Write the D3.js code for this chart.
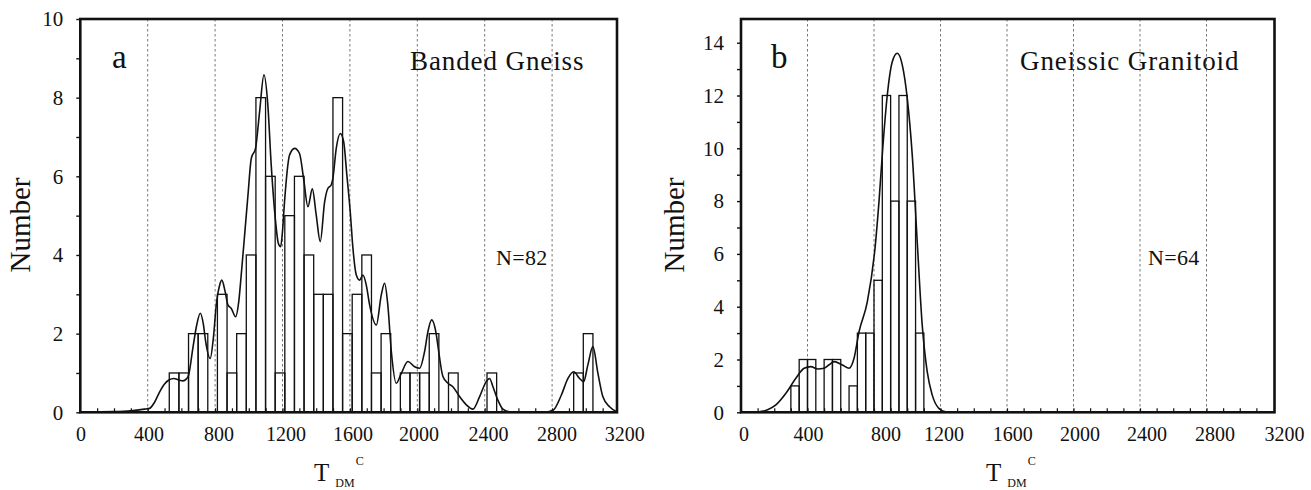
<!DOCTYPE html>
<html>
<head>
<meta charset="utf-8">
<script src="https://cdn.jsdelivr.net/npm/d3@7/dist/d3.min.js"></script>
<style>
  html, body { margin: 0; padding: 0; background: #fff; }
  svg text { font-family: "Liberation Serif", "Times New Roman", serif; fill: #111; }
</style>
</head>
<body>
<svg id="chart" width="1311" height="490"></svg>
<script>
// ---------------- DATA ----------------
// Panel a: Banded Gneiss (N=82)
const binStartA = 528;
const binWidthA = 400 / 7;
const countsA = [1,1,2,2,0,3,1,2,4,8, 6,1,5,6,4,3,3,8,2,3, 4,1,2,0,1,1,1,2,0,1, 0,0,0,1,0,0,0,0,0,0, 0,0,1,2];
const curveAx = [0,200,300,380,411,440,471,500,526,555,585,609,630,643,668,690,712,730,744,771,790,807,825,840,858,876,896,922,940,955,975,995,1015,1040,1064,1090,1113,1133,1159,1175,1189,1200,1212,1242,1272,1301,1325,1351,1377,1400,1424,1450,1469,1489,1499,1519,1543,1563,1582,1602,1618,1638,1658,1677,1697,1717,1757,1786,1806,1825,1846,1875,1905,1944,1984,2014,2043,2063,2085,2113,2123,2152,2182,2211,2251,2291,2330,2370,2409,2429,2449,2478,2508,2548,2600,2750,2805,2855,2894,2928,2963,2987,3012,3042,3072,3101,3141,3181];
const curveAy = [0.01,0.02,0.04,0.08,0.1,0.25,0.52,0.72,0.82,0.86,0.82,0.8,0.85,0.95,1.63,2.2,2.52,2.25,1.8,1.37,1.9,2.73,3.2,3.36,3.1,2.73,2.64,2.43,2.8,3.49,4.5,5.52,6.46,6.71,7.64,8.58,7.81,6.29,4.85,4.3,4.21,4.6,5.35,6.54,6.71,6.58,5.95,5.23,5.68,5.02,4.34,5.35,5.69,5.78,5.95,6.71,7.09,6.88,6.03,5.1,4.17,3.49,3.36,3.49,3.24,2.73,2.22,2.98,3.28,2.73,1.54,0.74,0.99,1.29,1.16,1.12,1.54,2.05,2.35,1.97,1.67,0.91,0.74,0.65,0.4,0.19,0.08,0.4,0.78,0.86,0.65,0.31,0.08,0.01,0,0,0.05,0.44,0.86,1.03,0.86,0.78,1.2,1.67,0.99,0.4,0.14,0.02];

// Panel b: Gneissic Granitoid (N=64)
const binStartB = 300;
const binWidthB = 50;
const countsB = [1,2,2,0,2,2,0,1,3,3,5,12,8,12,8,3];
const curveBx = [0,60,110,160,210,270,330,380,420,460,500,530,560,610,650,680,710,760,806,830,854,880,910,940,970,1000,1030,1060,1090,1120,1150,1190,1230,1280,1320];
const curveBy = [0,0,0.02,0.1,0.28,0.72,1.29,1.67,1.73,1.64,1.67,1.8,1.92,1.79,1.67,2.05,3.05,4.19,6.21,7.98,10.12,12.02,13.28,13.6,13.16,11.9,9.75,6.46,3.31,1.54,0.66,0.15,0.02,0,0];

// Axis ticks / labels
const xTickLabels = [0,400,800,1200,1600,2000,2400,2800,3200];
const gridLines = [400,800,1200,1600,2000,2400,2800];
const yTicksA = [0,2,4,6,8,10];
const yTicksB = [0,2,4,6,8,10,12,14];

const panels = [
  { letter: "a", title: "Banded Gneiss", nLabel: "N=82",
    counts: countsA, binStart: binStartA, binWidth: binWidthA,
    cx: curveAx, cy: curveAy, yTicks: yTicksA, yMinor: d3.range(0, 11),
    xr: [80.3, 619.5], frameR: 617, yd: [0,10], yr: [412.3, 19],
    labelNudge: [0.7,1.3,3.9,3.5,3.1,1.7,3.8,4.9,5.2],
    titleX: 410, nX: 496, letterX: 112, numX: 21, tX: 314 },
  { letter: "b", title: "Gneissic Granitoid", nLabel: "N=64",
    counts: countsB, binStart: binStartB, binWidth: binWidthB,
    cx: curveBx, cy: curveBy, yTicks: yTicksB, yMinor: d3.range(0, 15),
    xr: [741, 1273], frameR: 1274.5, yd: [0,14], yr: [412.3, 42.7],
    labelNudge: [3,1,12,3.5,5.7,6.5,7,8.5,11.5],
    titleX: 1020, nX: 1148, letterX: 771, numX: 675, tX: 986 }
];

const svg = d3.select("#chart");
const TOP = 19, BOTTOM = 412.3;

panels.forEach((p, pi) => {
  const x = d3.scaleLinear().domain([0, 3200]).range(p.xr);
  const y = d3.scaleLinear().domain(p.yd).range(p.yr);
  const left = p.xr[0];
  const g = svg.append("g");

  const clipId = "clip" + pi;
  svg.append("clipPath").attr("id", clipId).append("rect")
    .attr("x", left).attr("y", TOP).attr("width", p.frameR - left).attr("height", BOTTOM - TOP);

  // dashed grid
  g.selectAll("line.grid").data(gridLines).join("line")
    .attr("x1", d => x(d)).attr("x2", d => x(d))
    .attr("y1", TOP).attr("y2", BOTTOM)
    .attr("stroke", "#777").attr("stroke-width", 1).attr("stroke-dasharray", "2.5,2.5");

  // bars
  const bins = p.counts.map((c, i) => ({ x0: p.binStart + i * p.binWidth, x1: p.binStart + (i + 1) * p.binWidth, c }))
    .filter(d => d.c > 0);
  g.append("g").attr("clip-path", `url(#${clipId})`)
    .selectAll("rect").data(bins).join("rect")
    .attr("x", d => x(d.x0)).attr("width", d => x(d.x1) - x(d.x0))
    .attr("y", d => y(d.c)).attr("height", d => y(0) - y(d.c))
    .attr("fill", "none").attr("stroke", "#111").attr("stroke-width", 1.3);

  // curve
  const pts = p.cx.map((v, i) => [v, p.cy[i]]);
  g.append("path").datum(pts)
    .attr("clip-path", `url(#${clipId})`)
    .attr("d", d3.line().x(d => x(d[0])).y(d => y(d[1])).curve(d3.curveMonotoneX))
    .attr("fill", "none").attr("stroke", "#111").attr("stroke-width", 1.6);

  // frame
  g.append("rect").attr("x", left).attr("y", TOP)
    .attr("width", p.frameR - left).attr("height", BOTTOM - TOP)
    .attr("fill", "none").attr("stroke", "#111").attr("stroke-width", 2.6);

  // x minor ticks (inward)
  const xAxis = d3.axisBottom(x).tickValues(d3.range(100, 3200, 100)).tickSize(-4).tickFormat("");
  const xa = g.append("g").attr("transform", `translate(0,${BOTTOM})`).call(xAxis);
  xa.select(".domain").remove();
  xa.selectAll("line").attr("stroke", "#111").attr("stroke-width", 1.2);

  // x tick labels
  g.selectAll("text.xl").data(xTickLabels).join("text")
    .attr("x", (d, i) => x(d) + p.labelNudge[i]).attr("y", 441)
    .attr("text-anchor", "middle").attr("font-size", 20).text(d => d);

  // y ticks (outward, every 1)
  const yAxis = d3.axisLeft(y).tickValues(p.yMinor).tickSize(4).tickFormat("");
  const ya = g.append("g").attr("transform", `translate(${left},0)`).call(yAxis);
  ya.select(".domain").remove();
  ya.selectAll("line").attr("stroke", "#111").attr("stroke-width", 1.4);

  g.selectAll("text.yl").data(p.yTicks).join("text")
    .attr("x", left - 17).attr("y", d => y(d)).attr("dy", "0.35em")
    .attr("text-anchor", "end").attr("font-size", 21).text(d => d);

  // y title
  g.append("text").attr("transform", `translate(${p.numX + 9},225) rotate(-90)`)
    .attr("text-anchor", "middle").attr("font-size", 29).text("Number");

  // panel letter, title, N
  g.append("text").attr("x", p.letterX).attr("y", 68).attr("font-size", 33).text(p.letter);
  g.append("text").attr("x", p.titleX).attr("y", 70).attr("font-size", 27)
    .attr("letter-spacing", 0.9).text(p.title);
  g.append("text").attr("x", p.nX).attr("y", 265).attr("font-size", 22)
    .attr("letter-spacing", 0.3).text(p.nLabel);

  // x title: T_DM^C
  const t = g.append("text").attr("x", p.tX).attr("y", 481).attr("font-size", 25);
  t.append("tspan").text("T");
  t.append("tspan").attr("font-size", 12).attr("dx", 6).attr("dy", 6).text("DM");
  t.append("tspan").attr("font-size", 12).attr("dx", 1).attr("dy", -22).text("C");
});
</script>
</body>
</html>
